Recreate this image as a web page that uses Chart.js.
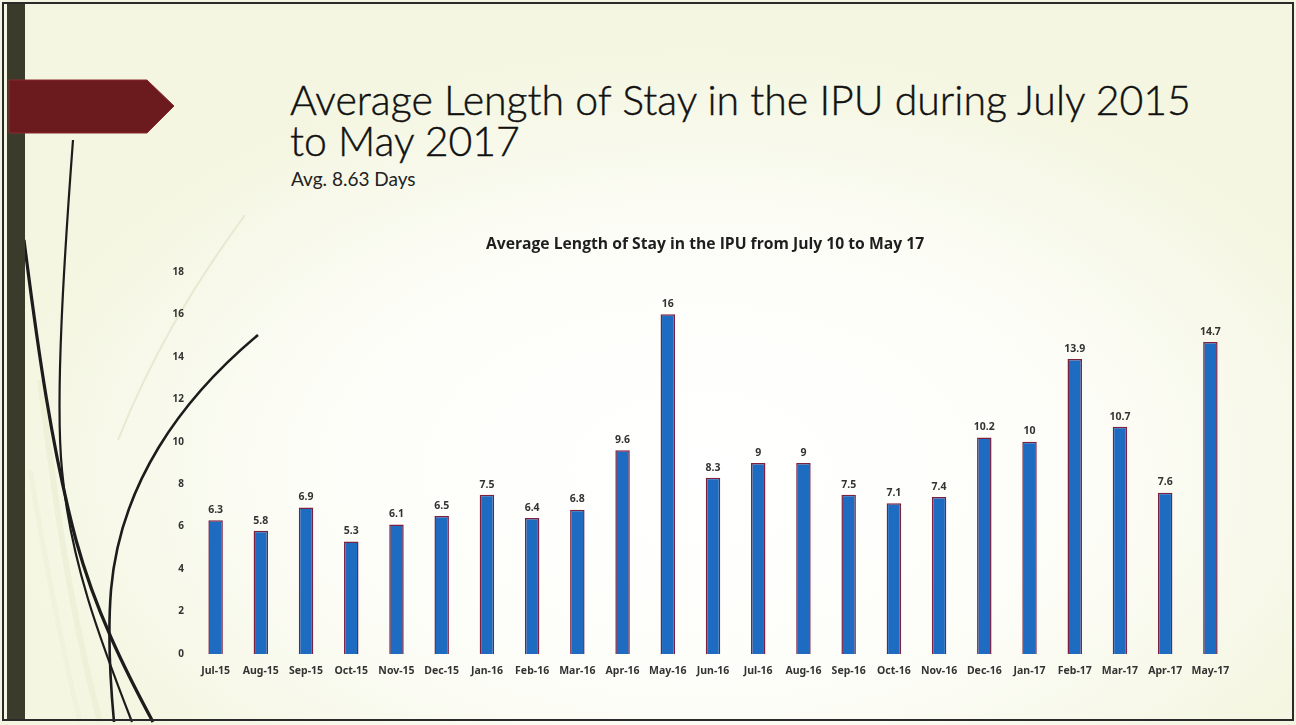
<!DOCTYPE html>
<html>
<head>
<meta charset="utf-8">
<script src="https://cdn.jsdelivr.net/npm/chart.js@4.4.1/dist/chart.umd.min.js"></script>
<style>
  html, body { margin: 0; padding: 0; }
  body {
    width: 1296px; height: 725px; overflow: hidden; position: relative;
    background: radial-gradient(ellipse 700px 420px at 700px 470px, #ffffff 0%, #fdfdf8 55%, #f4f6e1 100%);
    font-family: "Lato", "Noto Sans", sans-serif;
  }
  #deco { position: absolute; left: 0; top: 0; }
  .slide-title {
    position: absolute; left: 290px; top: 79px; margin: 0;
    font-weight: 300; color: #111111; line-height: 41px; white-space: nowrap;
    -webkit-text-stroke: 0.4px #111111;
  }
  .slide-sub {
    position: absolute; left: 291px; top: 167px; margin: 0;
    font-size: 19px; font-weight: 400; color: #222222; white-space: nowrap;
  }
  #wrap { position: absolute; left: 150px; top: 225px; width: 1110px; height: 470px; }
</style>
</head>
<body>
<svg id="deco" width="1296" height="725" xmlns="http://www.w3.org/2000/svg">
  <!-- faint background strokes -->
  <path d="M245,215 C190,290 150,360 118,440" stroke="#e6ead0" stroke-width="2" fill="none"/>
  <path d="M40,380 C55,500 70,610 100,722" stroke="#eef1d8" stroke-width="6" fill="none"/>
  <path d="M30,470 C45,560 60,640 80,722" stroke="#f0f2dc" stroke-width="5" fill="none"/>
  <!-- dark curved strokes -->
  <path d="M73,140 C64,260 55,400 62,470 C70,560 100,640 132,722" stroke="#1c1c1c" stroke-width="2.2" fill="none"/>
  <path d="M24,240 C38,350 52,450 76,540 C95,610 125,670 153,722" stroke="#1c1c1c" stroke-width="3.2" fill="none"/>
  <path d="M258,335 C180,400 120,485 111,590 C107,640 111,690 114,722" stroke="#1c1c1c" stroke-width="2.6" fill="none"/>
  <!-- left bar and arrow -->
  <rect x="7" y="4" width="18" height="716" fill="#3b3b2c"/>
  <polygon points="9,80 147,80 174,106 147,133 9,133" fill="#6b1a1d" stroke="#8a2a2a" stroke-width="1"/>
  <!-- frame -->
  <rect x="3" y="3" width="1290" height="717" fill="none" stroke="#2a2a2a" stroke-width="2"/>
</svg>

<div class="slide-title" id="slideTitle">Average Length of Stay in the IPU during July 2015<br>to May 2017</div>
<div class="slide-sub">Avg. 8.63 Days</div>

<div id="wrap"><canvas id="chart"></canvas></div>

<script>
// Monthly average length of stay (days)
const months = ['Jul-15','Aug-15','Sep-15','Oct-15','Nov-15','Dec-15','Jan-16','Feb-16','Mar-16','Apr-16','May-16','Jun-16',
                'Jul-16','Aug-16','Sep-16','Oct-16','Nov-16','Dec-16','Jan-17','Feb-17','Mar-17','Apr-17','May-17'];
const avgStay = [6.3, 5.8, 6.9, 5.3, 6.1, 6.5, 7.5, 6.4, 6.8, 9.6, 16, 8.3,
                 9, 9, 7.5, 7.1, 7.4, 10.2, 10, 13.9, 10.7, 7.6, 14.7];
const yTicks = [0, 2, 4, 6, 8, 10, 12, 14, 16, 18];
const chartTitle = 'Average Length of Stay in the IPU from July 10 to May 17';

// size the slide heading so its first line spans the title width
(function fitTitle() {
  const el = document.getElementById('slideTitle');
  const ctx = document.createElement('canvas').getContext('2d');
  ctx.font = '300 100px Lato';
  const w = ctx.measureText('Average Length of Stay in the IPU during July 2015').width;
  el.style.fontSize = (100 * 905 / w).toFixed(2) + 'px';
})();

// value labels above each bar
const barValueLabels = {
  id: 'barValueLabels',
  afterDatasetsDraw(chart) {
    const ctx = chart.ctx;
    const meta = chart.getDatasetMeta(0);
    ctx.save();
    ctx.font = 'bold 10.5px "Noto Sans"';
    ctx.fillStyle = '#333333';
    ctx.textAlign = 'center';
    ctx.textBaseline = 'bottom';
    meta.data.forEach((bar, i) => {
      ctx.fillText(String(chart.data.datasets[0].data[i]), bar.x, bar.y - 5);
    });
    ctx.restore();
  }
};

new Chart(document.getElementById('chart'), {
  type: 'bar',
  data: {
    labels: months,
    datasets: [{
      data: avgStay,
      backgroundColor: '#1d6cc1',
      borderColor: '#7d2040',
      borderWidth: 1.5,
      barPercentage: 0.32,
      categoryPercentage: 1.0
    }]
  },
  options: {
    responsive: true,
    maintainAspectRatio: false,
    animation: false,
    layout: { padding: 0 },
    plugins: {
      legend: { display: false },
      tooltip: { enabled: false },
      title: {
        display: true,
        text: chartTitle,
        color: '#1e1e1e',
        font: { family: '"Open Sans"', weight: 'bold', size: 15.7 },
        padding: { top: 10, bottom: 18 }
      }
    },
    scales: {
      x: {
        grid: { display: false, drawTicks: false },
        border: { display: false },
        ticks: {
          color: '#333333',
          font: { family: '"Noto Sans"', weight: 'bold', size: 10.5 },
          padding: 11,
          maxRotation: 0,
          autoSkip: false
        },
        afterFit(scale) { scale.height = 41; }
      },
      y: {
        min: 0,
        max: 18,
        afterBuildTicks(scale) { scale.ticks = yTicks.map(v => ({ value: v })); },
        grid: { display: false, drawTicks: false },
        border: { display: false },
        ticks: {
          color: '#333333',
          font: { family: '"Noto Sans"', weight: 'bold', size: 10 },
          padding: 9
        },
        afterFit(scale) { scale.width = 43; }
      },
      // empty right-hand margin axis
      yRight: {
        position: 'right',
        display: true,
        grid: { display: false, drawTicks: false },
        border: { display: false },
        ticks: { display: false },
        afterFit(scale) { scale.width = 27; }
      }
    }
  },
  plugins: [barValueLabels]
});
</script>
</body>
</html>
